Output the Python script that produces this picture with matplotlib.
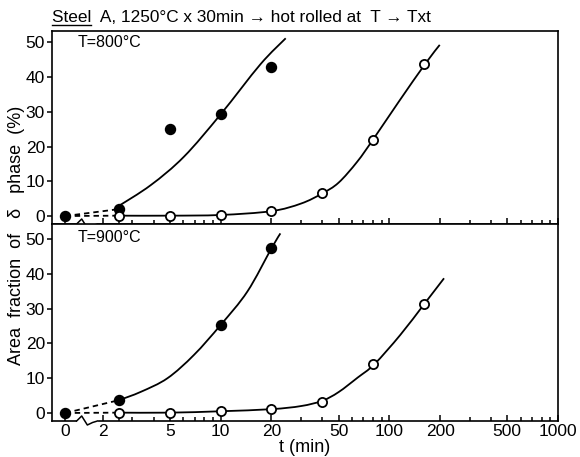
import numpy as np
import matplotlib
matplotlib.use("Agg")
import matplotlib.pyplot as plt
from matplotlib import font_manager
from matplotlib.ticker import FixedLocator, FixedFormatter, NullFormatter
from matplotlib.lines import Line2D
from matplotlib.path import Path
from matplotlib.patches import PathPatch

_names = {f.name for f in font_manager.fontManager.ttflist}
MAIN = 'Liberation Sans Narrow' if 'Liberation Sans Narrow' in _names else 'Liberation Sans'
plt.rcParams['font.family'] = [MAIN, 'DejaVu Sans']

# ---- measured points -------------------------------------------------------
# t = 0 is shown left of an axis break on the log time axis
ZERO_POS = 1.2

t_800_filled = [0, 2.5, 5, 10, 20]
v_800_filled = [0, 2, 25, 29.5, 43]
t_800_open = [2.5, 5, 10, 20, 40, 80, 160]
v_800_open = [0.1, 0.1, 0.3, 1.4, 6.5, 22, 43.8]

t_900_filled = [0, 2.5, 10, 20]
v_900_filled = [0, 3.7, 25.3, 47.3]
t_900_open = [2.5, 5, 10, 20, 40, 80, 160]
v_900_open = [0.1, 0.1, 0.5, 1.1, 3.3, 14, 31.3]

# ---- hand-drawn trend curves (knots) --------------------------------------
fit_800_filled_t = [2.45, 3.85, 6.06, 10, 17.2, 24.3]
fit_800_filled_v = [2.7, 8.9, 17.1, 29.3, 43.7, 51.2]
fit_800_open_t = [2.5, 5, 10, 20, 30, 40, 50, 64.4, 80, 114, 163, 199]
fit_800_open_v = [0.1, 0.1, 0.3, 1.4, 3.6, 6.5, 9.6, 15.6, 22, 33, 43.8, 49.3]

fit_900_filled_t = [2.5, 3.37, 4.84, 6.95, 10, 14.4, 20, 22.6]
fit_900_filled_v = [3.7, 6.1, 10, 16.7, 25.3, 34.9, 47.3, 51.6]
fit_900_open_t = [2.5, 5, 10, 20, 30, 40, 50, 65, 81.5, 116, 161, 211]
fit_900_open_v = [0.1, 0.1, 0.5, 1.1, 2.0, 3.5, 6.0, 10.2, 14, 22.4, 31.3, 38.7]

x_major = [ZERO_POS, 2, 5, 10, 20, 50, 100, 200, 500, 1000]
x_major_labels = ['0', '2', '5', '10', '20', '50', '100', '200', '500', '1000']
x_minor = [2.5, 3, 4, 6, 7, 8, 9, 30, 40, 60, 70, 80, 90,
           300, 400, 600, 700, 800, 900]
y_ticks = [0, 10, 20, 30, 40, 50]

W, H = 580, 457
fig = plt.figure(figsize=(W / 100, H / 100), dpi=100)

left, right = 52 / W, 558 / W
ax_top = fig.add_axes([left, 1 - 224 / H, right - left, 193 / H])
ax_bot = fig.add_axes([left, 1 - 421 / H, right - left, 197 / H])

LW = 1.3
MS_F = 7.2
MS_O = 6.6
FS_TICK = 12.5


def disp(ts):
    return [ZERO_POS if t == 0 else t for t in ts]


def smooth_curve(ax, ts, vs, **kw):
    """Draw a Catmull-Rom style Bezier path through the knots (log time)."""
    x = np.log10(np.asarray(ts, float))
    y = np.asarray(vs, float)
    n = len(x)
    verts = [(ts[0], vs[0])]
    codes = [Path.MOVETO]
    for i in range(n - 1):
        xp, yp = (x[i - 1], y[i - 1]) if i > 0 else (x[i], y[i])
        xn, yn = (x[i + 2], y[i + 2]) if i + 2 < n else (x[i + 1], y[i + 1])
        c1 = (x[i] + (x[i + 1] - xp) / 6, y[i] + (y[i + 1] - yp) / 6)
        c2 = (x[i + 1] - (xn - x[i]) / 6, y[i + 1] - (yn - y[i]) / 6)
        verts += [(10 ** c1[0], c1[1]), (10 ** c2[0], c2[1]),
                  (ts[i + 1], vs[i + 1])]
        codes += [Path.CURVE4] * 3
    ax.add_patch(PathPatch(Path(verts, codes), fill=False, **kw))


def panel(ax, tf, vf, to, vo, ftf, fvf, fto, fvo, label, ylim, height_px):
    ax.set_xscale('log')
    ax.set_xlim(1.0, 1000)
    ax.set_ylim(*ylim)

    tfd = disp(tf)
    # dashed links from t = 0
    ax.plot([tfd[0], tfd[1]], [vf[0], vf[1]], color='black', lw=LW,
            ls=(0, (3, 2.2)), zorder=3)
    ax.plot([tfd[0], to[0]], [vf[0], vo[0]], color='black', lw=LW,
            ls=(0, (3, 2.2)), zorder=3)
    # trend curves
    smooth_curve(ax, ftf, fvf, edgecolor='black', lw=LW, zorder=3)
    smooth_curve(ax, fto, fvo, edgecolor='black', lw=LW, zorder=3)
    # symbols
    ax.plot(tfd, vf, 'o', color='black', ms=MS_F, zorder=4)
    ax.plot(to, vo, 'o', mfc='white', mec='black', mew=1.3, ms=MS_O, zorder=4)

    ax.text(0.05, 0.94 if height_px < 195 else 0.93, label,
            transform=ax.transAxes, fontsize=11.5, va='center', ha='left')

    ax.xaxis.set_major_locator(FixedLocator(x_major))
    ax.xaxis.set_minor_locator(FixedLocator(x_minor))
    ax.xaxis.set_major_formatter(FixedFormatter(x_major_labels))
    ax.xaxis.set_minor_formatter(NullFormatter())
    ax.tick_params(axis='x', which='major', direction='in', length=4.6,
                   width=1.1, labelsize=FS_TICK, pad=2.5)
    ax.tick_params(axis='x', which='minor', direction='in', length=3.0,
                   width=1.1)
    ax.yaxis.set_major_locator(FixedLocator(y_ticks))
    ax.tick_params(axis='y', direction='out', length=3.5, width=1.1,
                   labelsize=FS_TICK, pad=1.5)
    for s in ax.spines.values():
        s.set_linewidth(1.2)

    # axis break on the time axis between 0 and 2
    tr = ax.get_xaxis_transform()
    px = 1.0 / height_px
    ax.plot([1.44, 1.82], [0, 0], color='white', lw=3, transform=tr,
            clip_on=False, zorder=5)
    ax.plot([1.40, 1.50, 1.62, 1.74, 1.86],
            [0, 5 * px, -4 * px, -1.5 * px, 0],
            color='black', lw=1.1, transform=tr, clip_on=False, zorder=6)


panel(ax_top, t_800_filled, v_800_filled, t_800_open, v_800_open,
      fit_800_filled_t, fit_800_filled_v, fit_800_open_t, fit_800_open_v,
      'T=800°C', (-2.3, 53.3), 193)
panel(ax_bot, t_900_filled, v_900_filled, t_900_open, v_900_open,
      fit_900_filled_t, fit_900_filled_v, fit_900_open_t, fit_900_open_v,
      'T=900°C', (-2.3, 54.3), 197)

ax_top.tick_params(axis='x', which='both', labelbottom=False)

ax_bot.set_xlabel('t (min)', fontsize=13, labelpad=0)
fig.text(17 / W, 1 - 235 / H, 'Area  fraction  of   δ   phase  (%)',
         rotation=90, fontsize=13, ha='center', va='center')

# title with underlined steel name
ty = 1 - 17 / H
FS_T = 12.4
fig.text(left, ty, 'Steel  A, 1250°C x 30min → hot rolled at  T → Txt',
         fontsize=FS_T, ha='left', va='center')
probe = fig.text(left, ty, 'Steel', fontsize=FS_T, ha='left', va='center')
fig.canvas.draw()
bb = probe.get_window_extent(renderer=fig.canvas.get_renderer())
probe.remove()
fig.add_artist(Line2D([bb.x0 / W, bb.x1 / W],
                      [(bb.y0 - 0.5) / H, (bb.y0 - 0.5) / H],
                      color='black', lw=1.0, transform=fig.transFigure))

fig.savefig('out.png', dpi=100)
